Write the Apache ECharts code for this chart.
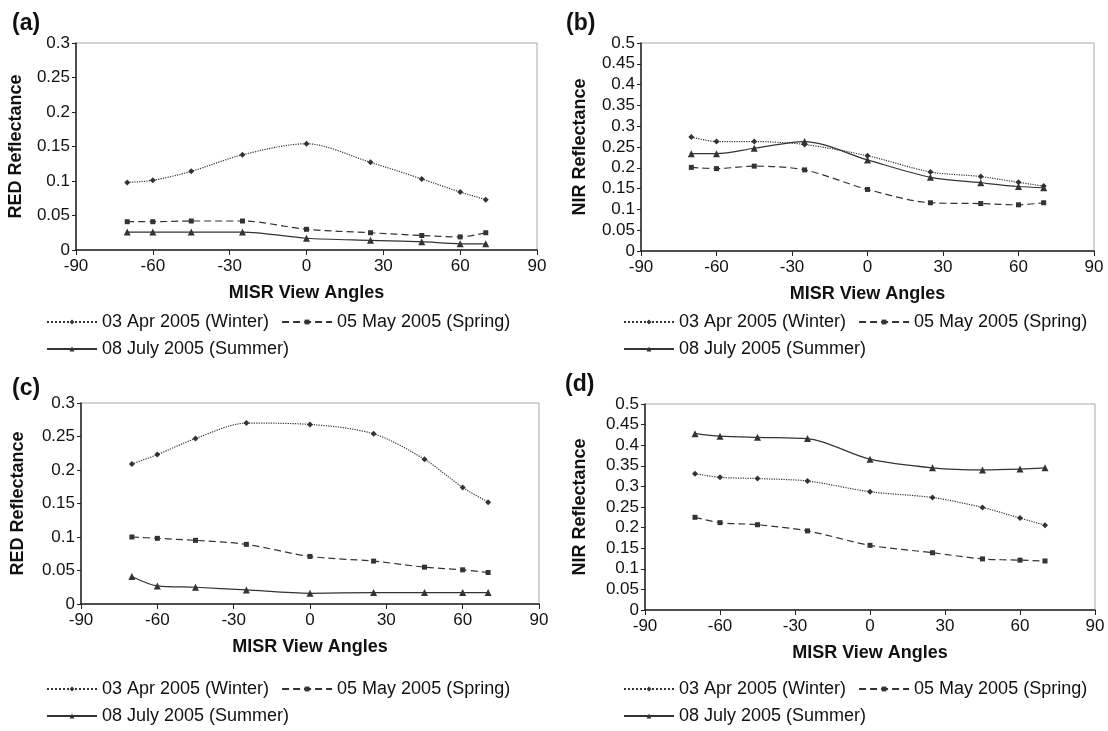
<!DOCTYPE html>
<html>
<head>
<meta charset="utf-8">
<script src="https://cdn.jsdelivr.net/npm/echarts@6/dist/echarts.min.js"></script>
<style>
  html, body { margin: 0; padding: 0; background: #fff; }
  #main { width: 1108px; height: 731px; }
</style>
</head>
<body>
<div id="main"></div>
<script>
// MISR view angles (x)
var angles = [-70, -60, -45, -25, 0, 25, 45, 60, 70];

var seriesNames = ['03 Apr 2005 (Winter)', '05 May 2005 (Spring)', '08 July 2005 (Summer)'];

// (a) RED reflectance
var redA_winter = [0.098, 0.101, 0.114, 0.138, 0.154, 0.127, 0.103, 0.084, 0.073];
var redA_spring = [0.041, 0.041, 0.042, 0.042, 0.030, 0.025, 0.021, 0.019, 0.025];
var redA_summer = [0.026, 0.026, 0.026, 0.026, 0.017, 0.014, 0.012, 0.009, 0.009];

// (b) NIR reflectance
var nirB_winter = [0.274, 0.263, 0.263, 0.256, 0.229, 0.190, 0.179, 0.165, 0.156];
var nirB_spring = [0.201, 0.198, 0.204, 0.195, 0.148, 0.116, 0.114, 0.111, 0.116];
var nirB_summer = [0.234, 0.234, 0.247, 0.263, 0.219, 0.177, 0.164, 0.155, 0.152];

// (c) RED reflectance
var redC_winter = [0.209, 0.223, 0.247, 0.270, 0.268, 0.254, 0.216, 0.174, 0.152];
var redC_spring = [0.100, 0.098, 0.095, 0.089, 0.071, 0.064, 0.055, 0.051, 0.047];
var redC_summer = [0.041, 0.027, 0.025, 0.021, 0.016, 0.017, 0.017, 0.017, 0.017];

// (d) NIR reflectance
var nirD_winter = [0.331, 0.322, 0.319, 0.313, 0.287, 0.273, 0.249, 0.223, 0.206];
var nirD_spring = [0.225, 0.212, 0.207, 0.192, 0.157, 0.139, 0.124, 0.121, 0.119];
var nirD_summer = [0.428, 0.422, 0.419, 0.416, 0.366, 0.345, 0.340, 0.342, 0.345];

var panelLabels = ['(a)', '(b)', '(c)', '(d)'];
var yNames = ['RED Reflectance', 'NIR Reflectance', 'RED Reflectance', 'NIR Reflectance'];
var yMax = [0.3, 0.5, 0.3, 0.5];
var panelData = [
  [redA_winter, redA_spring, redA_summer],
  [nirB_winter, nirB_spring, nirB_summer],
  [redC_winter, redC_spring, redC_summer],
  [nirD_winter, nirD_spring, nirD_summer]
];

var grids = [
  { left: 76, top: 43, width: 461, height: 207 },
  { left: 641, top: 43, width: 453, height: 208 },
  { left: 81, top: 403, width: 458, height: 201 },
  { left: 645, top: 404, width: 450, height: 206 }
];
var yNameGap = [51, 52, 54, 56];
var legendPos = [
  { left: 46, top1: 313, top2: 340 },
  { left: 623, top1: 313, top2: 340 },
  { left: 46, top1: 680, top2: 707 },
  { left: 623, top1: 680, top2: 707 }
];
var titlePos = [
  { left: 12, top: 12 },
  { left: 566, top: 12 },
  { left: 12, top: 377 },
  { left: 565, top: 373 }
];

var ink = '#333';
var font = 'Liberation Sans, Arial, sans-serif';

var styles = [
  { type: 'dotted', symbol: 'diamond', size: 6 },
  { type: [7, 4], symbol: 'rect', size: 5 },
  { type: 'solid', symbol: 'triangle', size: 7 }
];

var option = {
  animation: false,
  backgroundColor: '#fff',
  textStyle: { fontFamily: font },
  title: [],
  grid: [],
  xAxis: [],
  yAxis: [],
  legend: [],
  series: []
};

for (var p = 0; p < 4; p++) {
  option.title.push({
    text: panelLabels[p],
    left: titlePos[p].left,
    top: titlePos[p].top,
    padding: 0,
    textStyle: { fontSize: 23, fontWeight: 'bold', color: '#111', fontFamily: font }
  });

  option.grid.push({
    left: grids[p].left, top: grids[p].top,
    width: grids[p].width, height: grids[p].height,
    show: true, borderColor: '#a8a8a8', borderWidth: 1
  });

  option.xAxis.push({
    type: 'value', gridIndex: p,
    min: -90, max: 90, interval: 30,
    name: 'MISR View Angles', nameLocation: 'middle', nameGap: 34,
    nameTextStyle: { fontSize: 18, fontWeight: 'bold', color: '#111' },
    axisLine: { onZero: false, lineStyle: { color: '#222', width: 1.5 } },
    axisTick: { show: true, inside: false, length: 5, lineStyle: { color: '#222' } },
    axisLabel: { fontSize: 17, color: '#111', margin: 8 },
    splitLine: { show: false }
  });

  option.yAxis.push({
    type: 'value', gridIndex: p,
    min: 0, max: yMax[p], interval: 0.05,
    name: yNames[p], nameLocation: 'middle', nameGap: yNameGap[p], nameRotate: 90,
    nameTextStyle: { fontSize: 18, fontWeight: 'bold', color: '#111' },
    axisLine: { show: true, onZero: false, lineStyle: { color: '#222', width: 1.5 } },
    axisTick: { show: true, inside: false, length: 4, lineStyle: { color: '#222' } },
    axisLabel: { fontSize: 17, color: '#111', margin: 6 },
    splitLine: { show: false }
  });

  for (var s = 0; s < 3; s++) {
    var pts = [];
    for (var i = 0; i < angles.length; i++) pts.push([angles[i], panelData[p][s][i]]);
    option.series.push({
      type: 'line',
      name: seriesNames[s],
      xAxisIndex: p, yAxisIndex: p,
      data: pts,
      smooth: 0.3,
      symbol: styles[s].symbol,
      symbolSize: styles[s].size,
      itemStyle: { color: ink },
      lineStyle: { color: ink, width: 1.2, type: styles[s].type }
    });
  }

  option.legend.push({
    left: legendPos[p].left, top: legendPos[p].top1,
    orient: 'horizontal', itemWidth: 50, itemHeight: 6, itemGap: 12,
    padding: 0,
    selectedMode: false,
    data: [seriesNames[0], seriesNames[1]],
    textStyle: { fontSize: 18, color: '#111', fontFamily: font }
  });
  option.legend.push({
    left: legendPos[p].left, top: legendPos[p].top2,
    orient: 'horizontal', itemWidth: 50, itemHeight: 6,
    padding: 0,
    selectedMode: false,
    data: [seriesNames[2]],
    textStyle: { fontSize: 18, color: '#111', fontFamily: font }
  });
}

var chart = echarts.init(document.getElementById('main'));
chart.setOption(option);
</script>
</body>
</html>
